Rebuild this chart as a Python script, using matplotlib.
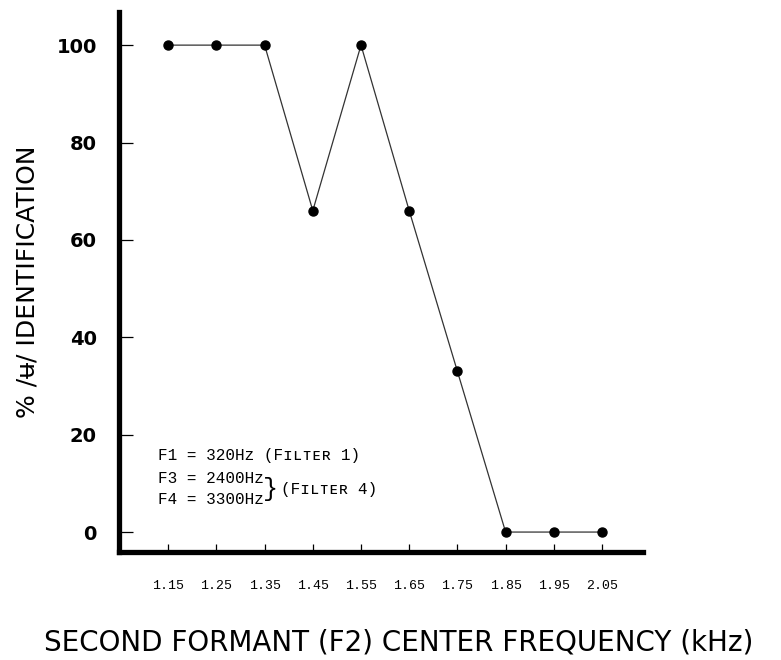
import matplotlib
matplotlib.use("Agg")
import matplotlib.pyplot as plt

freq = [1.15, 1.25, 1.35, 1.45, 1.55, 1.65, 1.75, 1.85, 1.95, 2.05]
pct = [100, 100, 100, 66, 100, 66, 33, 0, 0, 0]
xtick_labels = ["1.15", "1.25", "1.35", "1.45", "1.55", "1.65", "1.75", "1.85", "1.95", "2.05"]
yticks = [0, 20, 40, 60, 80, 100]

fig = plt.figure(figsize=(7.81, 6.60), dpi=100)
ax = fig.add_axes([0.1524, 0.1636, 0.6709, 0.8182])

ax.plot(freq, pct, color="#333333", lw=0.9, marker="o", ms=6.5,
        mfc="black", mec="black", zorder=3)

ax.set_xlim(1.048, 2.135)
ax.set_ylim(-4.1, 106.8)

for s in ["top", "right"]:
    ax.spines[s].set_visible(False)
for s in ["left", "bottom"]:
    ax.spines[s].set_linewidth(3.8)
    ax.spines[s].set_color("black")

ax.set_xticks(freq)
ax.set_xticklabels(xtick_labels, family=["Liberation Mono", "DejaVu Sans Mono"], fontsize=9.5)
ax.set_yticks(yticks)
ax.set_yticklabels([str(v) for v in yticks], fontweight="bold", fontsize=14,
                   family="DejaVu Sans")
ax.tick_params(axis="y", direction="in", length=10, width=0.9, pad=16)
ax.tick_params(axis="x", direction="in", length=6, width=0.9, pad=20)

fig.text(0.035, 0.573, "% /ʉ/ IDENTIFICATION", rotation=90, ha="center", va="center",
         fontsize=18, family="DejaVu Sans")
fig.text(0.511, 0.027, "SECOND FORMANT (F2) CENTER FREQUENCY (kHz)", ha="center",
         va="center", fontsize=20, family="DejaVu Sans")

mono = ["Liberation Mono", "DejaVu Sans Mono", "DejaVu Sans"]
ax.text(1.129, 15.8, "F1 = 320Hz (Fɪʟᴛᴇʀ 1)", fontsize=11.5, family=mono, va="center")
ax.text(1.129, 11.1, "F3 = 2400Hz", fontsize=11.5, family=mono, va="center")
ax.text(1.129, 6.6, "F4 = 3300Hz", fontsize=11.5, family=mono, va="center")
ax.text(1.362, 8.8, "}", fontsize=18, family=mono, va="center", ha="center")
ax.text(1.385, 8.8, "(Fɪʟᴛᴇʀ 4)", fontsize=11.5, family=mono, va="center")

fig.savefig("out.png", dpi=100)
